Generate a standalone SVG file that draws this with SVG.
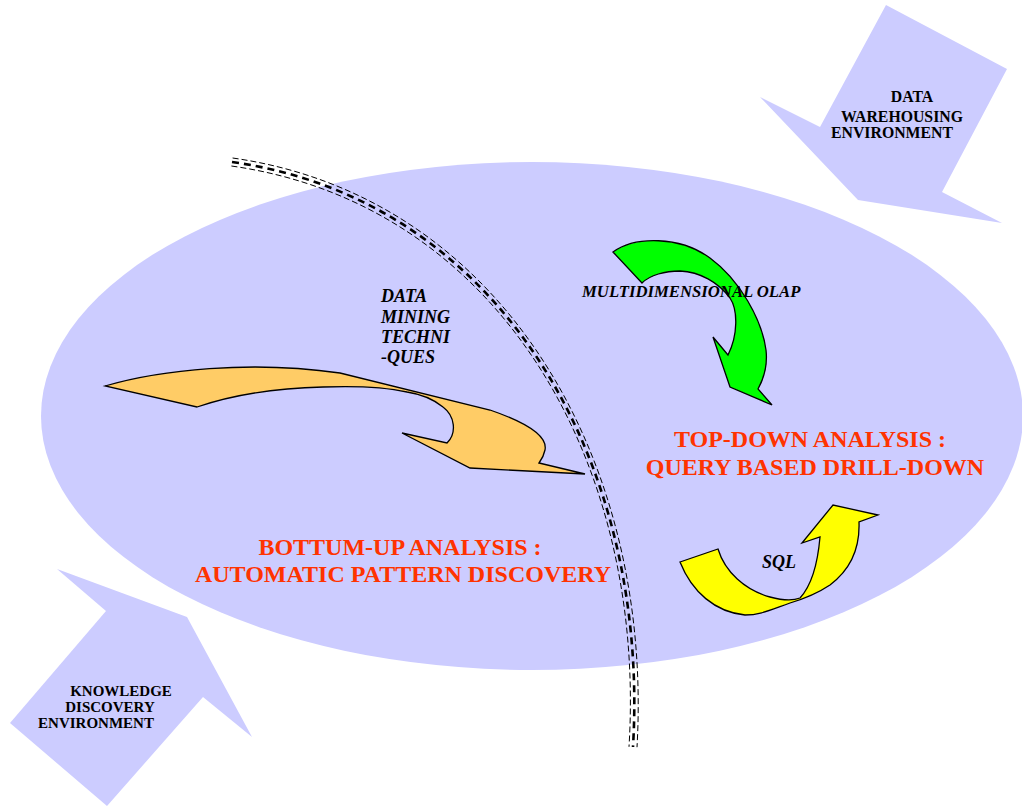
<svg xmlns="http://www.w3.org/2000/svg" width="1022" height="807" viewBox="0 0 1022 807">
  <style>
    .zone { fill: #CCCCFF; stroke: none; }
    .env { font-family: "Liberation Serif", "Times New Roman", serif; font-weight: bold; fill: #000; }
    .tag { font-family: "Liberation Serif", "Times New Roman", serif; font-weight: bold; font-style: italic; fill: #000; font-size: 18px; }
    .tag.wide { font-size: 16.7px; }
    .head { font-family: "Liberation Serif", "Times New Roman", serif; font-weight: bold; fill: #FF3300; font-size: 24px; text-anchor: middle; }
    .flow { stroke: #000; stroke-width: 1.3; stroke-linejoin: miter; }
    .rail { fill: none; stroke: #000; stroke-width: 1; stroke-dasharray: 6 3; }
    .rail-core { fill: none; stroke: #000; stroke-width: 2.6; stroke-dasharray: 7 5; }
  </style>

  <!-- analysis space -->
  <g id="analysis-space">
    <ellipse class="zone" cx="532" cy="416" rx="491" ry="254"/>
  </g>

  <!-- environments -->
  <g id="data-warehousing-environment">
    <polygon class="zone" points="886,5 1007,69 942,192 1002,223 858,200 760,97 820,127"/>
    <text class="env" font-size="15.8" text-anchor="middle"><tspan x="912" y="102">DATA</tspan><tspan x="902" y="122">WAREHOUSING</tspan><tspan x="892" y="138">ENVIRONMENT</tspan></text>
  </g>

  <g id="knowledge-discovery-environment">
    <polygon class="zone" points="57,569 187,617 252,737 203,697 107,806 10,723 106,611"/>
    <text class="env" font-size="15" text-anchor="middle"><tspan x="121" y="696">KNOWLEDGE</tspan><tspan x="110" y="712">DISCOVERY</tspan><tspan x="96" y="728">ENVIRONMENT</tspan></text>
  </g>

  <!-- flows -->
  <g id="connectors">
    <path id="bottom-up-flow" class="flow" fill="#FFCC66" d="M105,386 C160,370 250,360 340,373 L490,410 C522,421 548,435 545,450 C544,455 542,459 539,463 L585,474 L470,468 L402,433 L447,443 C457,433 455,416 443,407 C432,398 420,394 407,392 C380,386 350,386 323,387 C280,388 235,394 197,407 Z"/>
    <path id="olap-flow" class="flow" fill="#00FF00" d="M613,252 C635,236 680,236 710,258 C740,280 762,320 766,350 C768,368 763,380 758,389 L772,405 L730,387 L713,337 L728,355 C738,335 738,310 730,298 C718,282 700,272 680,271 C665,271 650,275 642,283 Z"/>
    <path id="sql-flow" class="flow" fill="#FFFF00" d="M680,562 L718,549 C725,572 745,590 770,597 C785,601 795,600 800,598 C812,585 818,560 820,537 L802,543 L833,505 L878,515 L859,522 C860,548 850,570 830,585 C815,595 800,600 790,603 C770,610 760,615 745,615 C715,612 692,592 680,562 Z"/>

    <!-- boundary between the two analysis styles -->
    <g id="divider">
      <path class="rail" d="M232.6,158 C501,196.1 653.5,458 637,747.2"/>
      <path class="rail-core" d="M232,162 C500,200 650,460 633,747"/>
      <path class="rail" d="M231.4,166 C499,203.9 646.5,462 629,746.8"/>
    </g>
  </g>

  <!-- labels -->
  <g id="data-mining-label">
    <text class="tag"><tspan x="381" y="302">DATA</tspan><tspan x="381" y="323">MINING</tspan><tspan x="381" y="343">TECHNI</tspan><tspan x="381" y="363">-QUES</tspan></text>
  </g>
  <g id="olap-label">
    <text class="tag wide" x="582" y="297">MULTIDIMENSIONAL OLAP</text>
  </g>
  <g id="sql-label">
    <text class="tag" x="762" y="568">SQL</text>
  </g>
  <g id="top-down">
    <text class="head"><tspan x="810" y="447">TOP-DOWN ANALYSIS :</tspan><tspan x="815" y="475">QUERY BASED DRILL-DOWN</tspan></text>
  </g>
  <g id="bottom-up">
    <text class="head"><tspan x="400" y="555">BOTTUM-UP ANALYSIS :</tspan><tspan x="403" y="582">AUTOMATIC PATTERN DISCOVERY</tspan></text>
  </g>
</svg>
